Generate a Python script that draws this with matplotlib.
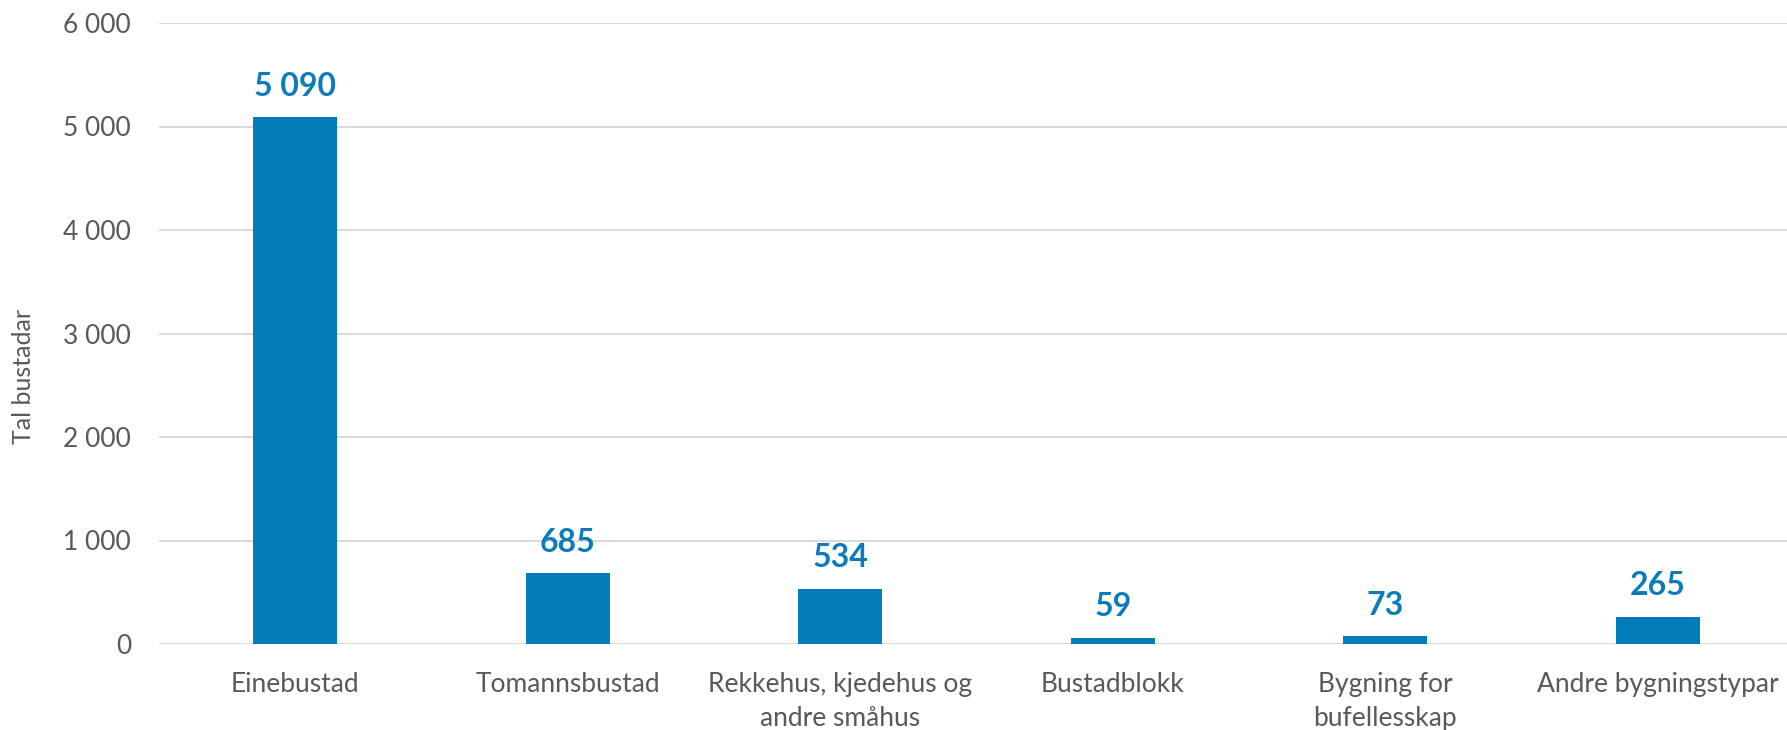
import matplotlib.pyplot as plt
from matplotlib.ticker import FuncFormatter

plt.rcParams['font.family'] = ['Lato', 'DejaVu Sans']

categories = ['Einebustad', 'Tomannsbustad', 'Rekkehus, kjedehus og\nandre småhus',
              'Bustadblokk', 'Bygning for\nbufellesskap', 'Andre bygningstypar']
values = [5090, 685, 534, 59, 73, 265]
yticks = [0, 1000, 2000, 3000, 4000, 5000, 6000]

bar_color = '#037DBA'
label_color = '#0B7BBB'
text_color = '#595959'
grid_color = '#D9D9D9'


def space_thousands(v, pos=None):
    return f'{v:,.0f}'.replace(',', ' ')


fig = plt.figure(figsize=(17.87, 7.30), dpi=100)
ax = fig.add_axes([159 / 1787, 1 - 644 / 730, (1794 - 159) / 1787, (644 - 23) / 730])

x = list(range(len(categories)))
ax.bar(x, values, width=0.31, color=bar_color, zorder=3)

for xi, v in zip(x, values):
    ax.annotate(space_thousands(v), (xi, v), xytext=(0, 15.5), textcoords='offset points',
                ha='center', va='baseline', fontsize=23, fontweight='bold', color=label_color)

ax.set_xlim(-0.5, len(categories) - 0.5)
ax.set_ylim(0, 6000)
ax.set_yticks(yticks)
ax.yaxis.set_major_formatter(FuncFormatter(space_thousands))
ax.set_xticks(x)
ax.set_xticklabels(categories, linespacing=1.45)

ax.grid(axis='y', color=grid_color, linewidth=1.4, zorder=0)
for s in ax.spines.values():
    s.set_visible(False)
ax.tick_params(axis='y', length=0, pad=20, labelsize=19, labelcolor=text_color)
ax.tick_params(axis='x', length=0, pad=20, labelsize=19, labelcolor=text_color)

fig.text(24 / 1787, 1 - 376 / 730, 'Tal bustadar', rotation=90, ha='center', va='center',
         fontsize=18, color=text_color)

fig.savefig('out.png', dpi=100)
